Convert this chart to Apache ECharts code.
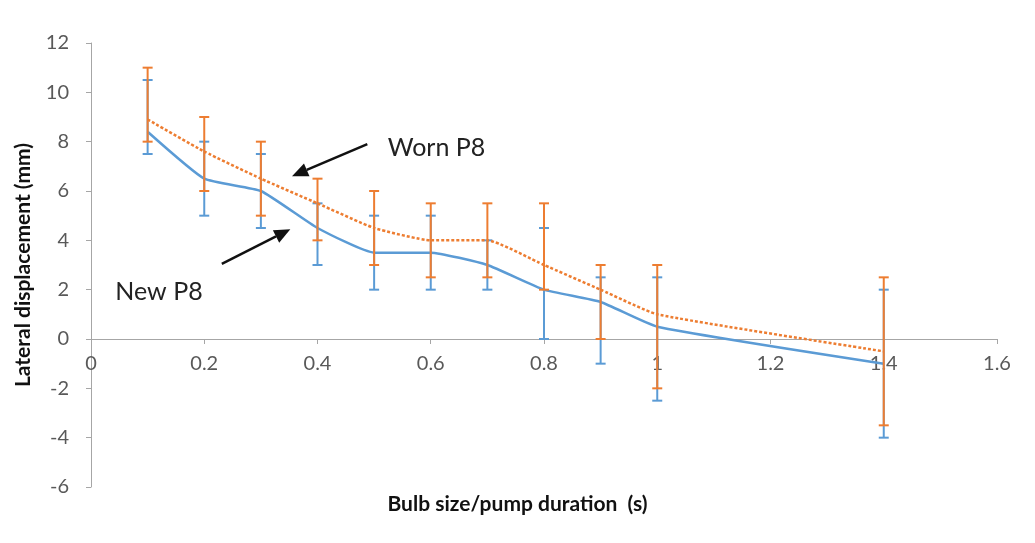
<!DOCTYPE html>
<html>
<head>
<meta charset="utf-8">
<script src="https://cdn.jsdelivr.net/npm/echarts@6/dist/echarts.min.js"></script>
<style>
html,body{margin:0;padding:0;background:#fff;}
#chart{width:1035px;height:543px;}
</style>
</head>
<body>
<div id="chart"></div>
<script>
// ---- data ----
const xValues   = [0.1, 0.2, 0.3, 0.4, 0.5, 0.6, 0.7, 0.8, 0.9, 1.0, 1.4];
const newMean   = [8.4, 6.5, 6.0, 4.5, 3.5, 3.5, 3.0, 2.0, 1.5, 0.5, -1.0];
const newLow    = [7.5, 5.0, 4.5, 3.0, 2.0, 2.0, 2.0, 0.0, -1.0, -2.5, -4.0];
const newHigh   = [10.5, 8.0, 7.5, 5.5, 5.0, 5.0, 4.0, 4.5, 2.5, 2.5, 2.0];
const wornMean  = [8.9, 7.6, 6.5, 5.5, 4.5, 4.0, 4.0, 3.0, 2.0, 1.0, -0.5];
const wornLow   = [8.0, 6.0, 5.0, 4.0, 3.0, 2.5, 2.5, 2.0, 0.0, -2.0, -3.5];
const wornHigh  = [11.0, 9.0, 8.0, 6.5, 6.0, 5.5, 5.5, 5.5, 3.0, 3.0, 2.5];
const seriesNames = ['New P8', 'Worn P8'];
const xTitle = 'Bulb size/pump duration  (s)';
const yTitle = 'Lateral displacement (mm)';
// annotation arrows: [label, textX, textY, arrowStartX, arrowStartY, arrowTipX, arrowTipY]
const annotations = [
  ['Worn P8', 0.524, 7.75, 0.488, 7.9, 0.355, 6.6],
  ['New P8', 0.043, 1.9, 0.231, 3.05, 0.352, 4.45]
];

const BLUE = '#5B9BD5';
const ORANGE = '#ED7D31';
const Y_MIN = -6, Y_MAX = 12;

function pairs(xs, ys){ return xs.map((x,i)=>[x, ys[i]]); }
function bars(xs, lo, hi){ return xs.map((x,i)=>[x, lo[i], hi[i]]); }

function errorBarRender(color){
  return function(params, api){
    const x = api.value(0);
    const lo = api.coord([x, api.value(1)]);
    const hi = api.coord([x, api.value(2)]);
    const hw = 5;
    const st = {stroke: color, lineWidth: 2};
    return {type:'group', children:[
      {type:'line', shape:{x1:lo[0],y1:lo[1],x2:hi[0],y2:hi[1]}, style:st},
      {type:'line', shape:{x1:lo[0]-hw,y1:lo[1],x2:lo[0]+hw,y2:lo[1]}, style:st},
      {type:'line', shape:{x1:hi[0]-hw,y1:hi[1],x2:hi[0]+hw,y2:hi[1]}, style:st}
    ]};
  };
}

function annotationRender(params, api){
  const a = annotations[params.dataIndex];
  const t = api.coord([a[1], a[2]]);
  const s = api.coord([a[3], a[4]]);
  const e = api.coord([a[5], a[6]]);
  const ang = Math.atan2(e[1]-s[1], e[0]-s[0]);
  const L = 16, W = 7;
  const bx = e[0] - L*Math.cos(ang), by = e[1] - L*Math.sin(ang);
  const px = -Math.sin(ang), py = Math.cos(ang);
  return {type:'group', children:[
    {type:'line', shape:{x1:s[0],y1:s[1],x2:bx,y2:by}, style:{stroke:'#111', lineWidth:2.5}},
    {type:'polygon', shape:{points:[[e[0],e[1]],[bx+px*W,by+py*W],[bx-px*W,by-py*W]]}, style:{fill:'#111'}},
    {type:'text', x:t[0], y:t[1], style:{text:a[0], fill:'#222', font:'25px Lato', align:'left', verticalAlign:'middle'}}
  ]};
}

const chart = echarts.init(document.getElementById('chart'), null, {renderer:'canvas'});
chart.setOption({
  backgroundColor:'#fff',
  animation:false,
  grid:{left:91, right:38, top:43, bottom:56, containLabel:false},
  xAxis:{
    type:'value', min:0, max:1.6, interval:0.2,
    axisLine:{onZero:false, lineStyle:{color:'#a6a6a6', width:1}},
    axisTick:{show:true, length:5, lineStyle:{color:'#a6a6a6'}},
    splitLine:{show:false},
    axisLabel:{color:'#595959', fontSize:20, fontFamily:'Lato', margin:15}
  },
  yAxis:{
    type:'value', min:Y_MIN, max:Y_MAX, interval:2,
    axisLine:{show:true, lineStyle:{color:'#a6a6a6', width:1}},
    axisTick:{show:true, length:5, lineStyle:{color:'#a6a6a6'}},
    splitLine:{show:false},
    axisLabel:{color:'#595959', fontSize:20, fontFamily:'Lato', margin:22},
    name:yTitle, nameLocation:'middle', nameGap:57,
    nameTextStyle:{color:'#111', fontSize:21, fontWeight:'bold', fontFamily:'Lato'}
  },
  graphic:[
    {type:'text', left:'center', top:494, style:{text:xTitle, fill:'#111', font:'bold 21px Lato'}}
  ],
  series:[
    {type:'custom', name:seriesNames[0]+' error', data:bars(xValues,newLow,newHigh), renderItem:errorBarRender(BLUE), z:2, silent:true},
    {type:'line', name:seriesNames[0], data:pairs(xValues,newMean), smooth:0.15, showSymbol:false, symbol:'none',
      lineStyle:{color:BLUE, width:2.5}, z:3},
    {type:'custom', name:seriesNames[1]+' error', data:bars(xValues,wornLow,wornHigh), renderItem:errorBarRender(ORANGE), z:4, silent:true},
    {type:'line', name:seriesNames[1], data:pairs(xValues,wornMean), smooth:0.15, showSymbol:false, symbol:'none',
      lineStyle:{color:ORANGE, width:2.5, type:[3,2]}, z:5},
    {type:'custom', name:'annotations', data:annotations.map((a,i)=>[a[1],a[2]]), renderItem:annotationRender, z:6, silent:true, clip:false}
  ]
});
// place the x axis on y = 0 using the library's own y scale
const zeroPx = chart.convertToPixel({yAxisIndex:0}, 0);
const minPx = chart.convertToPixel({yAxisIndex:0}, Y_MIN);
chart.setOption({xAxis:{offset: zeroPx - minPx}});
</script>
</body>
</html>
